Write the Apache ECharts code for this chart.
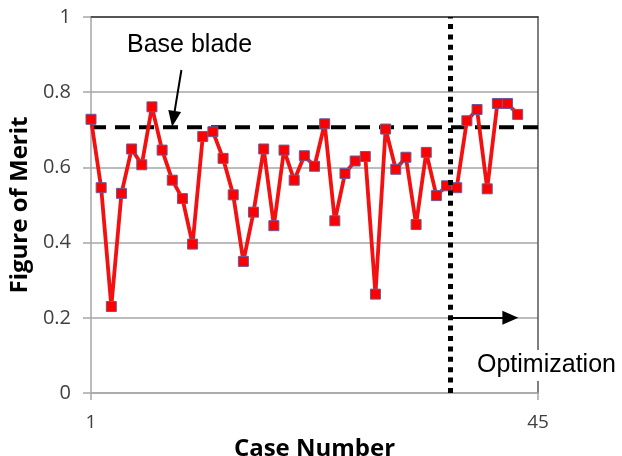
<!DOCTYPE html>
<html>
<head>
<meta charset="utf-8">
<script src="https://cdn.jsdelivr.net/npm/echarts@6/dist/echarts.min.js"></script>
<style>
  html, body { margin: 0; padding: 0; background: #fff; }
  #chart { width: 622px; height: 456px; }
</style>
</head>
<body>
<div id="chart"></div>
<script>
// Case numbers and their figure-of-merit values
const cases = [1, 2, 3, 4, 5, 6, 7, 8, 9, 10, 11, 12, 13, 14, 15, 16, 17, 18, 19, 20, 21, 22,
  23, 24, 25, 26, 27, 28, 29, 30, 31, 32, 33, 34, 35, 36, 37, 38, 39, 40, 41, 42, 43];
const merit = [0.728, 0.546, 0.230, 0.531, 0.649, 0.607, 0.761, 0.646, 0.566, 0.517, 0.396,
  0.682, 0.695, 0.624, 0.527, 0.350, 0.481, 0.649, 0.445, 0.646, 0.566, 0.631, 0.603, 0.716,
  0.458, 0.584, 0.617, 0.629, 0.263, 0.702, 0.595, 0.627, 0.448, 0.640, 0.525, 0.551, 0.546,
  0.724, 0.754, 0.543, 0.770, 0.770, 0.741];

// Reference level of the base blade and the case where optimization begins
const baseBlade = 0.707;
const optimizationStart = 36.33;

// Axis ranges and tick labels
const caseRange = [1, 45];
const caseTicks = [1, 45];
const meritTicks = [0, 0.2, 0.4, 0.6, 0.8, 1];

const labelFont = '"Open Sans", "Liberation Sans", sans-serif';
const noteFont = '"Liberation Sans", Arial, sans-serif';

const chart = echarts.init(document.getElementById('chart'), null, { renderer: 'canvas' });

const option = {
  animation: false,
  backgroundColor: '#ffffff',
  grid: { left: 91, right: 84, top: 17, bottom: 63, containLabel: false, outerBoundsMode: 'none' },
  xAxis: [
    {
      type: 'value',
      min: caseRange[0],
      max: caseRange[1],
      name: 'Case Number',
      nameLocation: 'middle',
      nameGap: 32,
      nameTextStyle: { fontFamily: labelFont, fontWeight: 'bold', fontSize: 24, color: '#000' },
      axisLine: { show: true, lineStyle: { color: '#a6a6a6', width: 1.5 } },
      axisTick: { show: true, customValues: caseTicks, length: 7, lineStyle: { color: '#a6a6a6', width: 1.5 } },
      axisLabel: { customValues: caseTicks, margin: 20, fontFamily: labelFont, fontSize: 19, color: '#404040' },
      splitLine: { show: false }
    },
    {
      type: 'value',
      position: 'top',
      min: caseRange[0],
      max: caseRange[1],
      axisLine: { show: true, onZero: false, lineStyle: { color: '#333', width: 1.5 } },
      axisTick: { show: false },
      axisLabel: { show: false },
      splitLine: { show: false }
    }
  ],
  yAxis: [
    {
      type: 'value',
      min: 0,
      max: 1,
      interval: 0.2,
      name: 'Figure of Merit',
      nameLocation: 'middle',
      nameGap: 52,
      nameTextStyle: { fontFamily: labelFont, fontWeight: 'bold', fontSize: 24, color: '#000' },
      axisLine: { show: true, lineStyle: { color: '#a6a6a6', width: 1.5 } },
      axisTick: { show: true, length: 8, lineStyle: { color: '#a6a6a6', width: 1.5 } },
      axisLabel: {
        margin: 20, fontFamily: labelFont, fontSize: 20, color: '#404040',
        customValues: meritTicks
      },
      splitLine: { show: true, lineStyle: { color: '#a6a6a6', width: 1.5 } }
    },
    {
      type: 'value',
      position: 'right',
      min: 0,
      max: 1,
      axisLine: { show: true, onZero: false, lineStyle: { color: '#555', width: 1.5 } },
      axisTick: { show: false },
      axisLabel: { show: false },
      splitLine: { show: false }
    }
  ],
  series: [
    {
      // base blade reference level
      type: 'line',
      z: 1,
      silent: true,
      symbol: 'none',
      data: [[caseRange[0], baseBlade], [caseRange[1], baseBlade]],
      lineStyle: { color: '#000', width: 4, type: [15, 9], cap: 'butt' }
    },
    {
      type: 'line',
      z: 3,
      data: cases.map((c, i) => [c, merit[i]]),
      symbol: 'rect',
      symbolSize: 10,
      itemStyle: { color: '#ff0000', borderColor: '#6a5a9a', borderWidth: 1 },
      lineStyle: { color: '#f21010', width: 3.8 }
    },
    {
      // annotations: optimization boundary and arrows
      type: 'line',
      z: 4,
      data: [],
      markLine: {
        silent: true,
        animation: false,
        symbol: ['none', 'none'],
        label: { show: false },
        data: [
          {
            xAxis: optimizationStart,
            lineStyle: { color: '#000', width: 5, type: [5, 5.4], cap: 'butt' }
          },
          [
            { coord: [36.57, 0.2], symbol: 'none', lineStyle: { color: '#000', width: 2, type: 'solid' } },
            { coord: [42.28, 0.2], symbol: 'triangle', symbolSize: [14, 16] }
          ],
          [
            { coord: [9.9, 0.859], symbol: 'none', lineStyle: { color: '#000', width: 2, type: 'solid' } },
            { coord: [9.11, 0.729], symbol: 'triangle', symbolSize: [13, 16] }
          ]
        ]
      }
    }
  ],
  graphic: [
    {
      type: 'text',
      z: 10,
      left: 127,
      top: 33,
      style: { text: 'Base blade', font: '25px ' + noteFont, fill: '#000' }
    },
    {
      type: 'text',
      z: 10,
      left: 471,
      top: 350,
      style: {
        text: 'Optimization', font: '25px ' + noteFont, fill: '#000',
        backgroundColor: '#fff', padding: [3, 0, 3, 6]
      }
    }
  ]
};

chart.setOption(option);
</script>
</body>
</html>
